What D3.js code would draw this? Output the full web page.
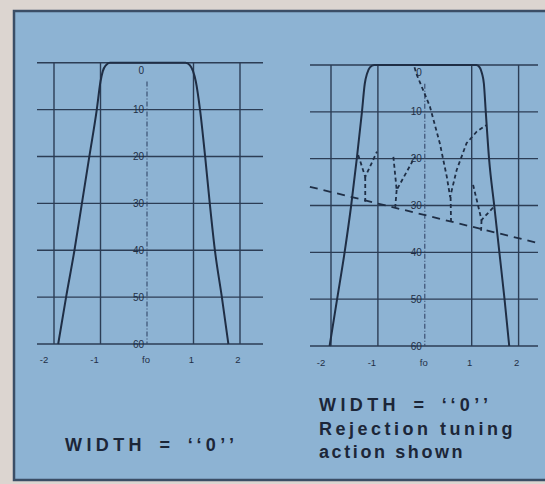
<!DOCTYPE html>
<html>
<head>
<meta charset="utf-8">
<script src="https://cdn.jsdelivr.net/npm/d3@7/dist/d3.min.js"></script>
<style>
  html, body { margin: 0; padding: 0; background: #dcd5d0; }
  svg { display: block; }
</style>
</head>
<body>
<svg id="chart" width="545" height="484"></svg>
<script>
// ---------- data ----------
const freqTicks = [-2, -1, 0, 1, 2];
const freqTickLabels = ["-2", "-1", "fo", "1", "2"];
const dbTicks = [0, -10, -20, -30, -40, -50, -60];
const dbTickLabels = ["0", "10", "20", "30", "40", "50", "60"];

// left panel passband (freq in bandwidth units, level in dB)
const leftPassFreq = [-1.91, -1.74, -1.56, -1.40, -1.24, -1.08, -1.00, -0.95, -0.88, -0.80, 0.83, 0.92, 0.99, 1.05, 1.14, 1.25, 1.35, 1.46, 1.61, 1.75];
const leftPassDb   = [-60,   -50,   -40,   -30,   -20,   -10,   -4,    -1.8,  -0.5,  0,     0,    -0.5, -1.8,  -4,   -10,  -20,  -30,  -40,  -50,  -60];

// right panel passband
const rightPassFreq = [-2.03, -1.87, -1.71, -1.57, -1.45, -1.34, -1.28, -1.23, -1.17, -1.08, 1.10, 1.17, 1.22, 1.26, 1.30, 1.37, 1.48, 1.59, 1.70, 1.80];
const rightPassDb   = [-60,   -50,   -40,   -30,   -20,   -10,   -4,    -1.8,  -0.5,  0,     0,    -0.5, -1.8,  -4,   -10,  -20,  -30,  -40,  -50,  -60];

// rejection envelope (long dashes)
const envelopeFreq = [-2.45, 2.41];
const envelopeDb   = [-26.0, -38.0];

// rejection notches (short dashes): arms and stems
const notchAArm  = [[-1.42, -19.2], [-1.27, -23.9], [-1.02, -18.5]];
const notchAStem = [[-1.27, -23.9], [-1.27, -29.2]];
const notchBArm  = [[-0.67, -19.6], [-0.60, -26.7], [-0.21, -19.6]];
const notchBStem = [[-0.60, -26.7], [-0.63, -30.3]];
const notchCArm  = [[-0.22, -0.5], [-0.17, -2.1], [0.11, -8.9], [0.32, -16.7], [0.47, -23.9], [0.54, -28.2],
                    [0.68, -22.4], [0.89, -16.7], [1.11, -14.2], [1.32, -12.8]];
const notchCStem = [[0.55, -28.2], [0.56, -33.8]];
const notchDArm  = [[1.03, -25.6], [1.21, -33.1], [1.47, -30.3]];
const notchDStem = [[1.21, -33.1], [1.20, -35.4]];

const leftCaption  = ["WIDTH = \u2018\u20180\u2019\u2019"];
const rightCaption = ["WIDTH = \u2018\u20180\u2019\u2019", "Rejection tuning", "action shown"];

// ---------- drawing ----------
const svg = d3.select("#chart");
const INK = "#1f2e45";
const GRID = "#2c3d55";

svg.append("rect").attr("x", 0).attr("y", 0).attr("width", 545).attr("height", 484).attr("fill", "#dcd5d0");
svg.append("rect")
  .attr("x", 14).attr("y", 11).attr("width", 545).attr("height", 469)
  .attr("fill", "#8db3d3")
  .attr("stroke", "#3b4e66").attr("stroke-width", 2.5);

function panel(cfg) {
  const x = d3.scaleLinear().domain([-2, 2]).range(cfg.xr);
  const y = d3.scaleLinear().domain([0, -60]).range(cfg.yr);
  const g = svg.append("g");

  // horizontal grid lines
  g.selectAll("line.h").data(dbTicks).join("line")
    .attr("x1", cfg.hx[0]).attr("x2", cfg.hx[1])
    .attr("y1", d => y(d)).attr("y2", d => y(d))
    .attr("stroke", GRID).attr("stroke-width", 1.4);

  // vertical grid lines
  g.selectAll("line.v").data(freqTicks.filter(d => d !== 0)).join("line")
    .attr("x1", d => x(d)).attr("x2", d => x(d))
    .attr("y1", y(0)).attr("y2", y(-60))
    .attr("stroke", GRID).attr("stroke-width", 1.4);

  // centre (fo) line, dash-dot
  g.append("line")
    .attr("x1", x(0)).attr("x2", x(0))
    .attr("y1", y(-4)).attr("y2", y(-60))
    .attr("stroke", "#34476a").attr("stroke-width", 1.1)
    .attr("stroke-dasharray", "5,2,1,2");

  // dB labels along the centre line
  g.selectAll("text.db").data(dbTicks).join("text")
    .attr("x", x(0) - 3)
    .attr("y", d => d === 0 ? y(d) + 11 : y(d) + 3.5)
    .attr("text-anchor", "end")
    .attr("font-family", "Liberation Sans, Arial, sans-serif")
    .attr("font-size", 10)
    .attr("fill", INK)
    .text((d, i) => dbTickLabels[i]);

  // frequency labels
  const dxOf = v => v < 0 ? (v === -2 ? -10 : -6) : (v === 0 ? -1 : -2);
  g.selectAll("text.f").data(freqTicks).join("text")
    .attr("x", d => x(d) + dxOf(d))
    .attr("y", cfg.labelY)
    .attr("text-anchor", "middle")
    .attr("font-family", "Liberation Sans, Arial, sans-serif")
    .attr("font-size", 9.5)
    .attr("fill", INK)
    .text((d, i) => freqTickLabels[i]);

  // passband
  const line = d3.line().x(d => x(d[0])).y(d => y(d[1])).curve(d3.curveMonotoneX);
  const pts = cfg.passFreq.map((f, i) => [f, cfg.passDb[i]]);
  g.append("path").attr("d", line(pts))
    .attr("fill", "none").attr("stroke", INK).attr("stroke-width", 2)
    .attr("stroke-linejoin", "round");

  return { x, y, g };
}

const L = panel({ xr: [54, 240], yr: [62.7, 344], hx: [37, 263], labelY: 363,
                  passFreq: leftPassFreq, passDb: leftPassDb });
const R = panel({ xr: [331.0, 518.6], yr: [65, 346], hx: [310, 538], labelY: 366,
                  passFreq: rightPassFreq, passDb: rightPassDb });

// rejection envelope
const lin = d3.line().x(d => R.x(d[0])).y(d => R.y(d[1]));
R.g.append("path")
  .attr("d", lin(envelopeFreq.map((f, i) => [f, envelopeDb[i]])))
  .attr("fill", "none").attr("stroke", INK).attr("stroke-width", 1.8)
  .attr("stroke-dasharray", "8,6");

// notches
const notchLine = d3.line().x(d => R.x(d[0])).y(d => R.y(d[1])).curve(d3.curveLinear);
[notchAArm, notchAStem, notchBArm, notchBStem, notchCArm, notchCStem, notchDArm, notchDStem].forEach(n => {
  R.g.append("path").attr("d", notchLine(n))
    .attr("fill", "none").attr("stroke", INK).attr("stroke-width", 1.8)
    .attr("stroke-dasharray", "4,3");
});

// captions
const capFont = "Liberation Sans, Arial, Helvetica, sans-serif";
const spacingOf = d => d.startsWith("WIDTH") ? 4.4 : (d.startsWith("Rejection") ? 3.5 : 2.6);
function caption(lines, x0, y0) {
  svg.append("g").selectAll("text").data(lines).join("text")
    .attr("x", x0).attr("y", (d, i) => y0 + i * 23.5)
    .attr("font-family", capFont).attr("font-weight", "bold")
    .attr("font-size", 18).attr("letter-spacing", d => spacingOf(d))
    .attr("word-spacing", d => d.startsWith("WIDTH") ? 4 : 0)
    .attr("fill", "#1c2638")
    .text(d => d);
}
caption(leftCaption, 65, 451);
caption(rightCaption, 319, 411);
</script>
</body>
</html>
